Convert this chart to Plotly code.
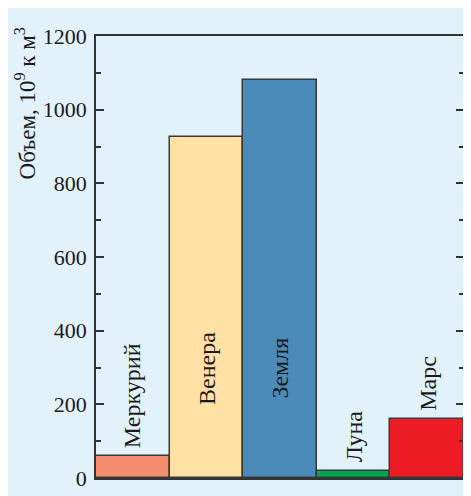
import plotly.graph_objects as go

# Data
planets = ["Меркурий", "Венера", "Земля", "Луна", "Марс"]
volumes = [60, 925, 1080, 20, 160]
bar_colors = ["#f58e6f", "#ffe1a6", "#4b8ab9", "#00a551", "#ed1c24"]
y_ticks = [0, 200, 400, 600, 800, 1000, 1200]
y_title = "Объем, 10<sup>9</sup> к м<sup>3</sup>"

# page has an 8px body margin, so the figure is drawn 8px in from top/left
W, H = 463, 488
L, R, T, B = 88, 5, 28, 16
BG = "#e1f2fa"
FONT = "Liberation Serif"
TXT = "#1e1a1b"

fig = go.Figure()
fig.add_trace(go.Bar(
    x=planets, y=volumes, width=1,
    marker=dict(color=bar_colors, line=dict(color="#383838", width=1.5)),
    hoverinfo="x+y",
))

# labels: tall bars get label inside at fixed height, short ones above the bar
for name, v in zip(planets, volumes):
    if v > 600:
        fig.add_annotation(x=name, y=297, text=name, textangle=-90, showarrow=False,
                           xanchor="center", yanchor="middle",
                           font=dict(family=FONT, size=24, color=TXT))
    else:
        fig.add_annotation(x=name, y=v, text=name, textangle=-90, showarrow=False,
                           xanchor="center", yanchor="bottom", yshift=6,
                           font=dict(family=FONT, size=24, color=TXT))

pw = W - L - R
ph = H - T - B
def px(xp):
    return (xp - L) / pw
def py(yp):
    return (H - B - yp) / ph

fig.add_annotation(xref="paper", yref="paper", x=px(17), y=py(17), text=y_title,
                   textangle=-90, showarrow=False, xanchor="center", yanchor="top",
                   font=dict(family=FONT, size=23, color=TXT))

fig.update_layout(
    width=W, height=H,
    margin=dict(l=L, r=R, t=T, b=B, pad=0),
    paper_bgcolor=BG, plot_bgcolor=BG,
    bargap=0, showlegend=False,
    font=dict(family=FONT, size=22, color=TXT),
)
fig.update_xaxes(range=[-0.5, 4.5], showticklabels=False, ticks="", showgrid=False,
                 showline=True, linecolor="#333333", linewidth=1.5, mirror=True, zeroline=False)
fig.update_yaxes(range=[0, 1200], tickvals=y_ticks, ticks="inside", ticklen=8, tickwidth=1.5,
                 tickcolor="#333333", showgrid=False, zeroline=False,
                 showline=True, linecolor="#333333", linewidth=1.5, mirror="ticks",
                 ticklabelstandoff=3,
                 tickfont=dict(family=FONT, size=22, color=TXT),
                 minor=dict(dtick=100, ticks="inside", ticklen=5, tickwidth=1.5,
                            tickcolor="#333333", showgrid=False))

fig.write_html("out.html")
